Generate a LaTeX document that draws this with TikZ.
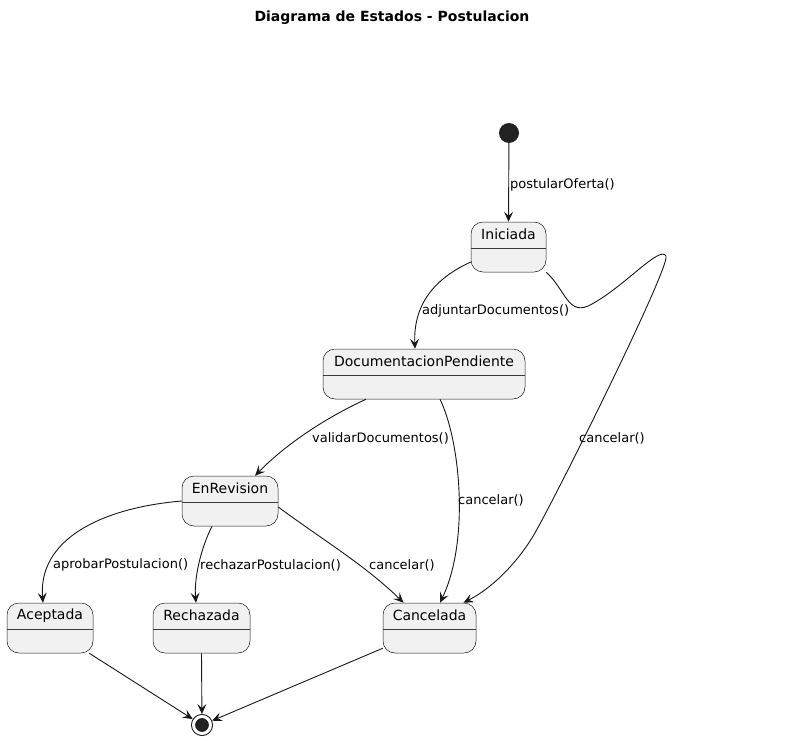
\documentclass[tikz,border=0pt]{standalone}
\usepackage{fontspec}
\setmainfont{DejaVu Sans}
\usetikzlibrary{arrows.meta}
\definecolor{ln}{HTML}{181818}
\definecolor{stfill}{HTML}{F1F1F1}
\definecolor{dot}{HTML}{222222}
\tikzset{
  stbox/.style={draw=ln, line width=0.5pt, fill=stfill, rounded corners=12pt, minimum height=50pt, inner sep=0pt, rectangle},
  stname/.style={font=\fontsize{14}{16}\selectfont, inner sep=0pt, text=black},
  lab/.style={font=\fontsize{13}{15}\selectfont, inner sep=0pt, anchor=west, text=black},
  tr/.style={draw=ln, line width=0.9pt, -{Stealth[length=10pt,width=9pt,inset=4pt]}},
  initst/.style={circle, fill=dot, minimum size=20pt, inner sep=0pt},
  finst/.style={circle, draw=ln, fill=dot, line width=1pt, double=white, double distance=3pt, minimum size=17pt, inner sep=0pt, outer sep=2.5pt},
}
\newcommand\mkstate[5]{% name, cx, cy, width, text
  \node[stbox, minimum width=#4pt] (#1) at (#2,#3) {};
  \draw[ln!85, line width=0.5pt] ([yshift=-26pt]#1.north west) -- ([yshift=-26pt]#1.north east);
  \node[stname] (#1-txt) at ([yshift=-13pt]#1.north) {#5};
}
\begin{document}
\begin{tikzpicture}[x=1pt,y=-1pt]
\useasboundingbox (0,0) rectangle (798,741);
\node[font=\bfseries\fontsize{14}{16}\selectfont] (title) at (392,18) {Diagrama de Estados - Postulacion};

\node[initst] (start) at (509,133) {};
\mkstate{ini}{508.5}{247}{75}{Iniciada}
\mkstate{doc}{424}{374}{202}{DocumentacionPendiente}
\mkstate{enr}{230}{501}{96}{EnRevision}
\mkstate{ace}{50}{628}{86}{Aceptada}
\mkstate{rec}{201.5}{628}{97}{Rechazada}
\mkstate{can}{429.5}{628}{93}{Cancelada}
\node[finst] (final) at (202,725) {};

% transitions
\draw[tr] (start) -- (ini.north);
\node[lab] (l1) at (510,185) {postularOferta()};

\draw[tr] ([yshift=-15pt]ini.west) .. controls (440,276) and (413,300) .. ([xshift=-9pt]doc.north);
\node[lab] (l2) at (422,311) {adjuntarDocumentos()};

\draw[tr] (ini.south east) .. controls (566,290) and (568,318) .. (592,304)
  .. controls (625,286) and (660,245) .. (666,256)
  .. controls (670,268) and (552,505) .. (532,538)
  .. controls (515,565) and (492,588) .. ([xshift=34pt]can.north);
\node[lab] (l3) at (579,438) {cancelar()};

\draw[tr] ([xshift=-58pt]doc.south) .. controls (325,418) and (285,445) .. ([xshift=25pt]enr.north);
\node[lab] (l4) at (312,438) {validarDocumentos()};

\draw[tr] ([xshift=16pt]doc.south) .. controls (460,440) and (470,540) .. ([xshift=10.5pt]can.north);
\node[lab] (l5) at (458,500) {cancelar()};

\draw[tr] (enr.west) .. controls (100,508) and (38,540) .. ([xshift=-7pt]ace.north);
\node[lab] (l6) at (53,565) {aprobarPostulacion()};

\draw[tr] ([xshift=-18pt]enr.south) .. controls (200,550) and (194,580) .. ([xshift=-5.5pt]rec.north);
\node[lab] (l7) at (200,565) {rechazarPostulacion()};

\draw[tr] ([yshift=-6pt]enr.east) .. controls (320,538) and (365,565) .. ([xshift=-26pt]can.north);
\node[lab] (l8) at (369,565) {cancelar()};

\draw[tr] ([xshift=-4pt]ace.south east) -- (final);
\draw[tr] (rec.south) -- (final);
\draw[tr] ([yshift=5pt]can.south west) -- (final);
\end{tikzpicture}
\end{document}
